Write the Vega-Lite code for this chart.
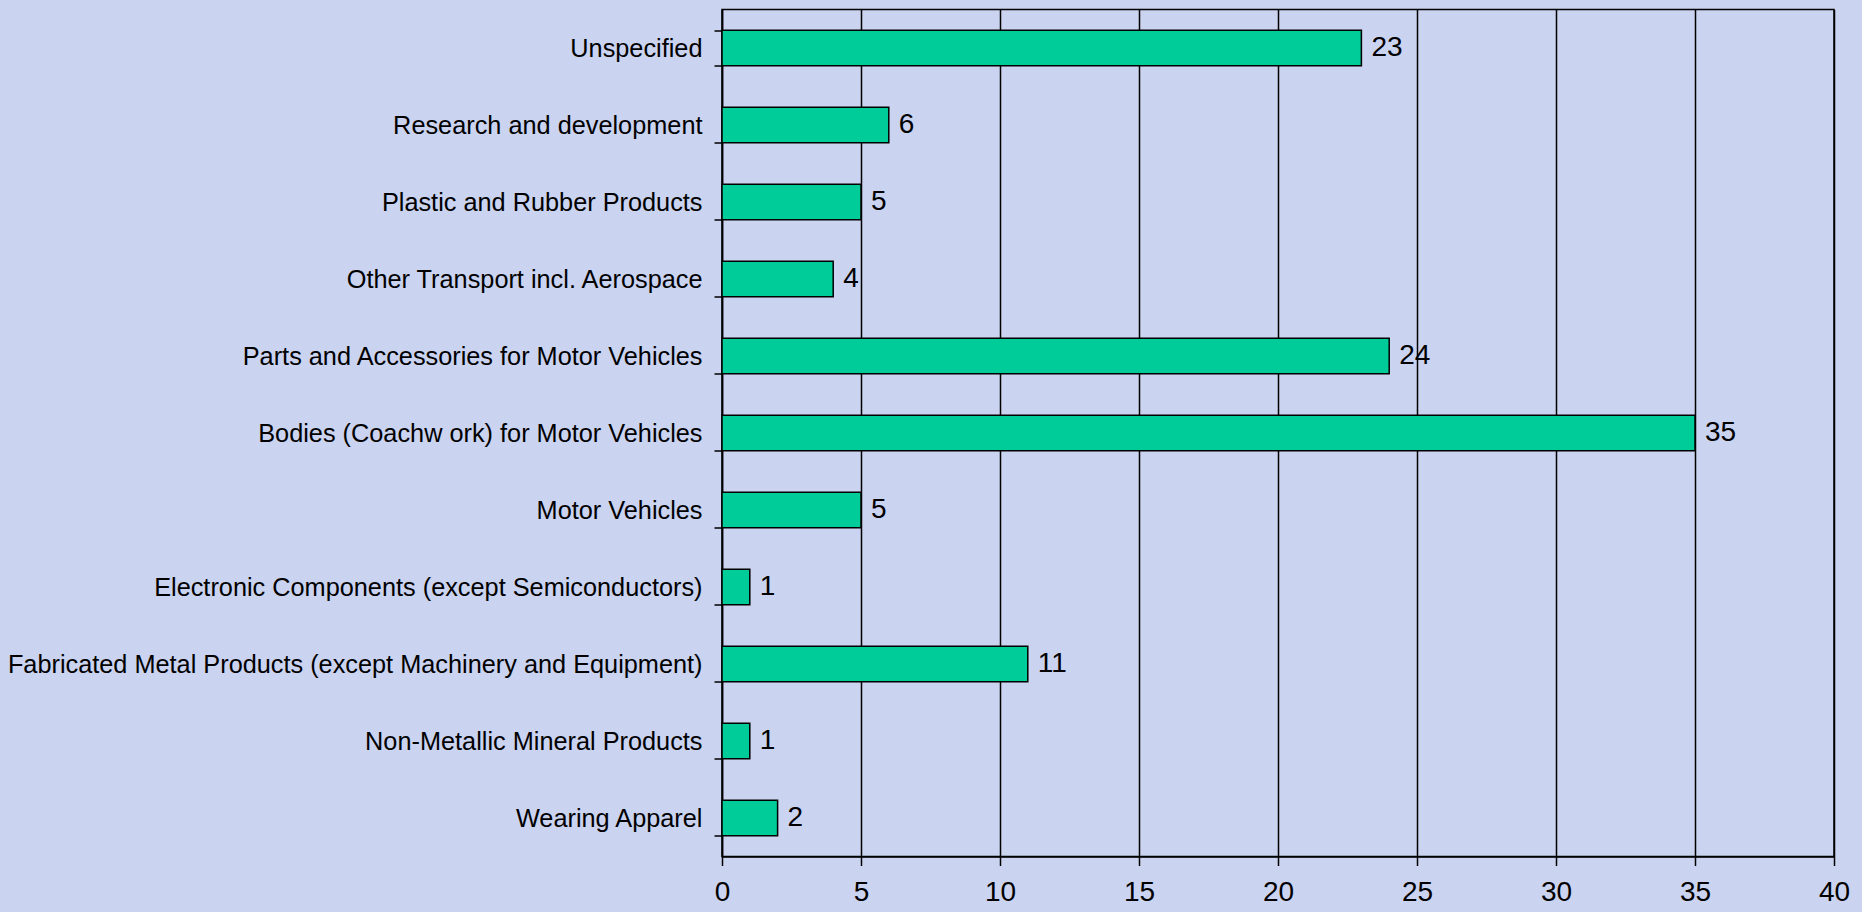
{
  "$schema": "https://vega.github.io/schema/vega-lite/v6.json",
  "autosize": "none",
  "width": 1112,
  "height": 847,
  "padding": {"left": 722, "top": 9.5, "right": 28, "bottom": 55.5},
  "background": "#cad3f0",
  "config": {
    "font": "Liberation Sans",
    "view": {"stroke": "#000000", "strokeWidth": 1.5}
  },
  "data": {
    "values": [
      {"category": "Unspecified", "count": 23},
      {"category": "Research and development", "count": 6},
      {"category": "Plastic and Rubber Products", "count": 5},
      {"category": "Other Transport incl. Aerospace", "count": 4},
      {"category": "Parts and Accessories for Motor Vehicles", "count": 24},
      {"category": "Bodies (Coachw ork) for Motor Vehicles", "count": 35},
      {"category": "Motor Vehicles", "count": 5},
      {"category": "Electronic Components (except Semiconductors)", "count": 1},
      {"category": "Fabricated Metal Products (except Machinery and Equipment)", "count": 11},
      {"category": "Non-Metallic Mineral Products", "count": 1},
      {"category": "Wearing Apparel", "count": 2}
    ]
  },
  "encoding": {
    "y": {
      "field": "category",
      "type": "nominal",
      "sort": null,
      "scale": {"paddingInner": 0.54, "paddingOuter": 0.27},
      "axis": {
        "title": null,
        "tickBand": "extent",
        "tickSize": 8,
        "tickColor": "#000000",
        "tickWidth": 1.5,
        "domainColor": "#000000",
        "domainWidth": 1.5,
        "labelFont": "Liberation Sans",
        "labelFontSize": 25.3,
        "labelColor": "#000000",
        "labelPadding": 12,
        "labelLimit": 1000,
        "grid": false
      }
    },
    "x": {
      "field": "count",
      "type": "quantitative",
      "scale": {"domain": [0, 40], "nice": false},
      "axis": {
        "title": null,
        "values": [0, 5, 10, 15, 20, 25, 30, 35, 40],
        "grid": true,
        "gridColor": "#000000",
        "gridWidth": 1.5,
        "gridOpacity": 1,
        "tickSize": 9,
        "tickColor": "#000000",
        "tickWidth": 1.5,
        "domainColor": "#000000",
        "domainWidth": 1.5,
        "labelFont": "Liberation Sans",
        "labelFontSize": 28,
        "labelColor": "#000000",
        "labelPadding": 13,
        "labelFlush": false
      }
    }
  },
  "layer": [
    {
      "mark": {"type": "bar", "color": "#00cc99", "stroke": "#000000", "strokeWidth": 1.5}
    },
    {
      "mark": {"type": "text", "align": "left", "baseline": "middle", "dx": 10, "fontSize": 28, "font": "Liberation Sans", "color": "#000000"},
      "encoding": {"text": {"field": "count", "type": "quantitative"}}
    }
  ]
}
